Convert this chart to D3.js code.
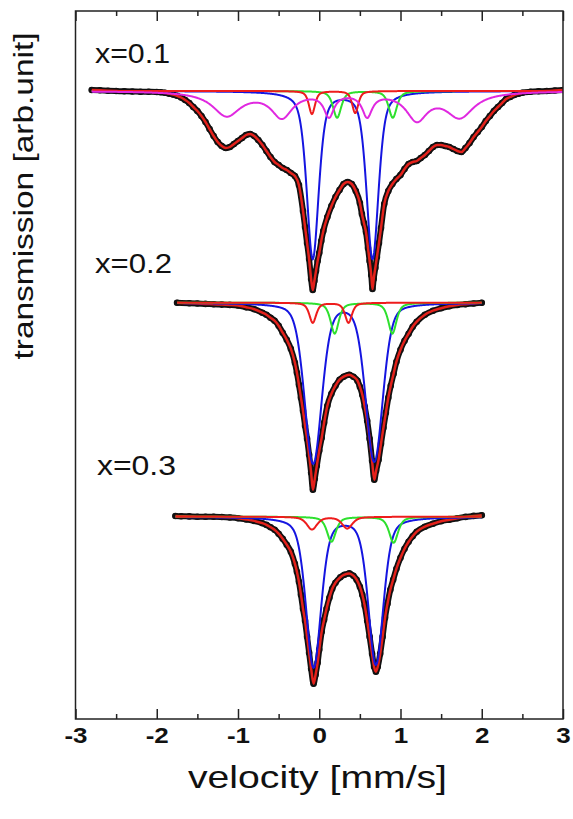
<!DOCTYPE html>
<html><head><meta charset="utf-8">
<script src="https://cdn.jsdelivr.net/npm/d3@7"></script>
<style>
body{margin:0;background:#fff;}
svg{display:block;font-family:"Liberation Sans",Arial,Helvetica,sans-serif;}
.tick text{font-size:22px;font-weight:bold;fill:#111;font-family:"Liberation Sans",Arial,sans-serif;}
</style>
</head><body>
<svg id="chart" width="573" height="819"></svg>
<script>
// ---------------- data ----------------
const xTicks = [-3, -2, -1, 0, 1, 2, 3];
const xMinorTicks = [-2.5, -1.5, -0.5, 0.5, 1.5, 2.5];
const sampleLabels = ["x=0.1", "x=0.2", "x=0.3"];
const xTitle = "velocity [mm/s]";
const yTitle = "transmission [arb.unit]";
// vertical offset of each spectrum (arb. units)
const offsets = [0.628, 0.4163, 0.2023];

// measured spectra: velocity (mm/s) and relative transmission
const vel1 = [-2.8,-2.7,-2.6,-2.5,-2.4,-2.3,-2.2,-2.1,-2.0,-1.95,-1.9,-1.85,-1.8,-1.75,-1.7,-1.65,-1.6,-1.55,-1.5,-1.45,-1.4,-1.35,-1.3,-1.25,-1.2,-1.15,-1.1,-1.05,-1.0,-0.95,-0.9,-0.85,-0.8,-0.75,-0.7,-0.65,-0.6,-0.55,-0.5,-0.45,-0.4,-0.35,-0.3,-0.25,-0.2,-0.175,-0.15,-0.125,-0.1,-0.08,-0.06,-0.04,-0.02,0,0.025,0.05,0.1,0.15,0.2,0.25,0.3,0.35,0.4,0.45,0.5,0.525,0.55,0.575,0.6,0.62,0.64,0.655,0.67,0.69,0.71,0.735,0.76,0.8,0.85,0.9,0.95,1.0,1.05,1.1,1.15,1.2,1.25,1.3,1.35,1.4,1.45,1.5,1.55,1.6,1.65,1.7,1.75,1.8,1.85,1.9,1.95,2.0,2.05,2.1,2.15,2.2,2.25,2.3,2.35,2.4,2.45,2.5,2.6,2.7,2.8,2.9,3.0];
const trans1 = [1.0010,1.0007,1.0003,1.0000,0.9997,0.9995,0.9993,0.9992,0.9990,0.9987,0.9982,0.9974,0.9965,0.9952,0.9935,0.991,0.988,0.984,0.980,0.975,0.969,0.962,0.955,0.949,0.945,0.943,0.944,0.947,0.950,0.953,0.956,0.957,0.955,0.951,0.946,0.940,0.934,0.929,0.926,0.923,0.921,0.918,0.915,0.906,0.880,0.864,0.848,0.832,0.812,0.801,0.810,0.820,0.830,0.838,0.850,0.860,0.874,0.885,0.894,0.901,0.907,0.909,0.907,0.900,0.888,0.877,0.868,0.859,0.843,0.830,0.816,0.802,0.812,0.823,0.834,0.848,0.863,0.887,0.900,0.907,0.912,0.916,0.922,0.927,0.929,0.930,0.933,0.936,0.940,0.944,0.946,0.946,0.945,0.944,0.942,0.940,0.939,0.943,0.948,0.954,0.959,0.964,0.970,0.975,0.980,0.984,0.988,0.992,0.994,0.996,0.9972,0.9983,0.9992,0.9997,1.0000,1.0005,1.0010];

const vel2 = [-1.75,-1.6,-1.5,-1.4,-1.3,-1.2,-1.1,-1.0,-0.9,-0.8,-0.7,-0.65,-0.6,-0.55,-0.5,-0.45,-0.4,-0.35,-0.3,-0.275,-0.25,-0.225,-0.2,-0.175,-0.15,-0.125,-0.1,-0.078,-0.055,-0.03,0,0.03,0.06,0.1,0.15,0.2,0.25,0.3,0.37,0.42,0.47,0.5,0.53,0.56,0.59,0.62,0.65,0.677,0.7,0.73,0.76,0.79,0.82,0.85,0.88,0.915,0.95,1.0,1.05,1.1,1.15,1.2,1.3,1.4,1.5,1.6,1.7,1.8,1.9,2.0];
const trans2 = [1.0000,0.9995,0.9992,0.9988,0.9985,0.9981,0.9978,0.9972,0.9955,0.9935,0.990,0.988,0.985,0.982,0.977,0.970,0.963,0.954,0.940,0.930,0.918,0.905,0.892,0.877,0.864,0.848,0.830,0.813,0.824,0.837,0.852,0.865,0.880,0.897,0.909,0.917,0.923,0.926,0.928,0.926,0.922,0.916,0.908,0.896,0.882,0.864,0.842,0.823,0.832,0.843,0.859,0.875,0.890,0.905,0.917,0.929,0.941,0.953,0.962,0.969,0.976,0.981,0.988,0.992,0.9945,0.9965,0.9977,0.9985,0.9992,1.0000];

const vel3 = [-1.77,-1.7,-1.6,-1.5,-1.4,-1.3,-1.2,-1.1,-1.0,-0.9,-0.8,-0.7,-0.65,-0.6,-0.55,-0.5,-0.45,-0.4,-0.35,-0.3,-0.275,-0.25,-0.225,-0.2,-0.175,-0.15,-0.125,-0.1,-0.07,-0.045,-0.02,0,0.03,0.06,0.09,0.125,0.16,0.2,0.26,0.31,0.37,0.42,0.46,0.5,0.53,0.56,0.59,0.62,0.65,0.675,0.697,0.72,0.75,0.78,0.81,0.84,0.875,0.91,0.95,1.0,1.05,1.1,1.15,1.2,1.3,1.4,1.5,1.6,1.7,1.8,1.9,2.0];
const trans3 = [1.0007,1.0005,1.0003,1.0000,1.0000,1.0000,0.9997,0.9992,0.9985,0.9973,0.9958,0.9935,0.9918,0.9895,0.987,0.983,0.978,0.972,0.965,0.953,0.945,0.935,0.922,0.908,0.896,0.880,0.864,0.848,0.833,0.842,0.854,0.867,0.885,0.897,0.908,0.919,0.928,0.934,0.9395,0.942,0.9433,0.941,0.937,0.930,0.922,0.911,0.896,0.880,0.863,0.850,0.845,0.850,0.863,0.880,0.899,0.913,0.927,0.937,0.948,0.959,0.968,0.975,0.9805,0.985,0.990,0.993,0.9955,0.997,0.9985,0.9998,1.0008,1.0015];

// fitted sub-spectra (line positions mm/s, depths, widths FWHM mm/s, lorentzian fraction)
const blueCenters = [[-0.08, 0.656], [-0.075, 0.677], [-0.07, 0.697]];
const blueDepths  = [[0.167, 0.167], [0.160, 0.158], [0.150, 0.147]];
const blueWidths  = [0.175, 0.25, 0.22];
const blueLor     = [0.5, 0.3, 0.4];

const greenCenters = [[0.22, 0.905], [0.19, 0.90], [0.15, 0.915]];
const greenDepths  = [[0.0266, 0.0266], [0.0307, 0.0307], [0.025, 0.026]];
const greenWidths  = [0.12, 0.12, 0.13];

const redCenters = [[-0.09, 0.443], [-0.08, 0.36], [-0.09, 0.345]];
const redDepths  = [[0.023, 0.022], [0.020, 0.020], [0.0127, 0.0117]];
const redWidths  = [0.09, 0.10, 0.15];

// six-line sextet, only for x=0.1
const magentaCenters = [-1.14, -0.46, 0.12, 0.59, 1.2, 1.73];
const magentaDepths  = [0.024, 0.025, 0.023, 0.023, 0.027, 0.025];
const magentaWidths  = [0.42, 0.32, 0.15, 0.15, 0.32, 0.42];

const velRanges = [[-2.8, 3.0], [-1.75, 2.0], [-1.77, 2.0]];

// ---------------- drawing ----------------
const svg = d3.select("#chart");
const plot = {left: 75.5, right: 563, top: 11, bottom: 719};
const x = d3.scaleLinear().domain([-3, 3]).range([plot.left, plot.right]);
const y = d3.scaleLinear().domain([0, 0.708]).range([plot.bottom, plot.top]);

const colors = {data: "#111", fit: "#e3211b", blue: "#1515e0", green: "#2ee02e", red: "#ee1c1c", magenta: "#e028e0"};

svg.append("defs").append("clipPath").attr("id", "clip")
  .append("rect").attr("x", plot.left).attr("y", plot.top)
  .attr("width", plot.right - plot.left).attr("height", plot.bottom - plot.top);

const g = svg.append("g").attr("clip-path", "url(#clip)");

function pv(v, c, w, eta) {
  const t = (v - c) / w;
  return eta / (1 + 4 * t * t) + (1 - eta) * Math.exp(-4 * Math.LN2 * t * t);
}
function component(i, centers, depths, width, eta) {
  const [a, b] = velRanges[i];
  return d3.range(a, b + 1e-9, 0.005).map(v => {
    let s = 0;
    centers.forEach((c, k) => { s += depths[k] * pv(v, c, Array.isArray(width) ? width[k] : width, eta); });
    return [v, offsets[i] - s];
  });
}

const line = d3.line().x(d => x(d[0])).y(d => y(d[1]));
const smooth = d3.line().x(d => x(d[0])).y(d => y(d[1])).curve(d3.curveMonotoneX);

const spectra = [[vel1, trans1], [vel2, trans2], [vel3, trans3]];
spectra.forEach(([vel, tr], i) => {
  const pts = vel.map((v, k) => [v, offsets[i] + (tr[k] - 1)]);
  // measured points
  g.append("path").attr("d", smooth(pts)).attr("fill", "none")
    .attr("stroke", colors.data).attr("stroke-width", 6).attr("stroke-linejoin", "round").attr("stroke-linecap", "round");
  g.selectAll(null).data(pts).enter().append("circle")
    .attr("cx", d => x(d[0])).attr("cy", d => y(d[1])).attr("r", 3.3).attr("fill", colors.data);
  // total fit
  g.append("path").attr("d", smooth(pts)).attr("fill", "none")
    .attr("stroke", colors.fit).attr("stroke-width", 2.5);
  // sub-spectra
  g.append("path").attr("d", line(component(i, blueCenters[i], blueDepths[i], blueWidths[i], blueLor[i])))
    .attr("fill", "none").attr("stroke", colors.blue).attr("stroke-width", 2);
  g.append("path").attr("d", line(component(i, greenCenters[i], greenDepths[i], greenWidths[i], 0.6)))
    .attr("fill", "none").attr("stroke", colors.green).attr("stroke-width", 2);
  g.append("path").attr("d", line(component(i, redCenters[i], redDepths[i], redWidths[i], 0.6)))
    .attr("fill", "none").attr("stroke", colors.red).attr("stroke-width", 2);
  if (i === 0) {
    g.append("path").attr("d", line(component(0, magentaCenters, magentaDepths, magentaWidths, 1)))
      .attr("fill", "none").attr("stroke", colors.magenta).attr("stroke-width", 2);
  }
});

// sample labels
const labelPos = [[95, 63, 75], [95, 273, 77], [97, 475, 79]];
sampleLabels.forEach((t, i) => {
  svg.append("text").attr("x", labelPos[i][0]).attr("y", labelPos[i][1])
    .attr("font-size", 28).attr("fill", "#111")
    .attr("textLength", labelPos[i][2]).attr("lengthAdjust", "spacingAndGlyphs").text(t);
});

// axes
const fmt = d => String(d);
const bottom = svg.append("g").attr("transform", `translate(0,${plot.bottom})`)
  .call(d3.axisBottom(x).tickValues(xTicks).tickSizeInner(-10).tickSizeOuter(0).tickPadding(9).tickFormat(fmt));
svg.append("g").attr("transform", `translate(0,${plot.bottom})`)
  .call(d3.axisBottom(x).tickValues(xMinorTicks).tickSizeInner(-5).tickSizeOuter(0).tickFormat(""));
svg.append("g").attr("transform", `translate(0,${plot.top})`)
  .call(d3.axisTop(x).tickValues(xTicks).tickSizeInner(-10).tickSizeOuter(0).tickFormat(""));
svg.append("g").attr("transform", `translate(0,${plot.top})`)
  .call(d3.axisTop(x).tickValues(xMinorTicks).tickSizeInner(-5).tickSizeOuter(0).tickFormat(""));
svg.selectAll(".domain").remove();
svg.selectAll(".tick line").attr("stroke", "#222").attr("stroke-width", 1.5);
bottom.attr("font-size", null).attr("font-family", null);
bottom.selectAll(".tick text")
  .style("font-size", "22px").style("font-weight", "bold").attr("fill", "#111")
  .attr("dy", null).attr("y", 24).attr("transform", "scale(1.18,1)");

// frame
svg.append("rect").attr("x", plot.left).attr("y", plot.top)
  .attr("width", plot.right - plot.left).attr("height", plot.bottom - plot.top)
  .attr("fill", "none").attr("stroke", "#222").attr("stroke-width", 1.5);

// axis titles
svg.append("text").attr("x", 317.5).attr("y", 788).attr("text-anchor", "middle")
  .attr("font-size", 32).attr("fill", "#111")
  .attr("textLength", 259).attr("lengthAdjust", "spacingAndGlyphs").text(xTitle);
svg.append("text").attr("transform", "translate(33,196) rotate(-90)").attr("text-anchor", "middle")
  .attr("font-size", 27).attr("fill", "#111")
  .attr("textLength", 327).attr("lengthAdjust", "spacingAndGlyphs").text(yTitle);
</script>
</body></html>
